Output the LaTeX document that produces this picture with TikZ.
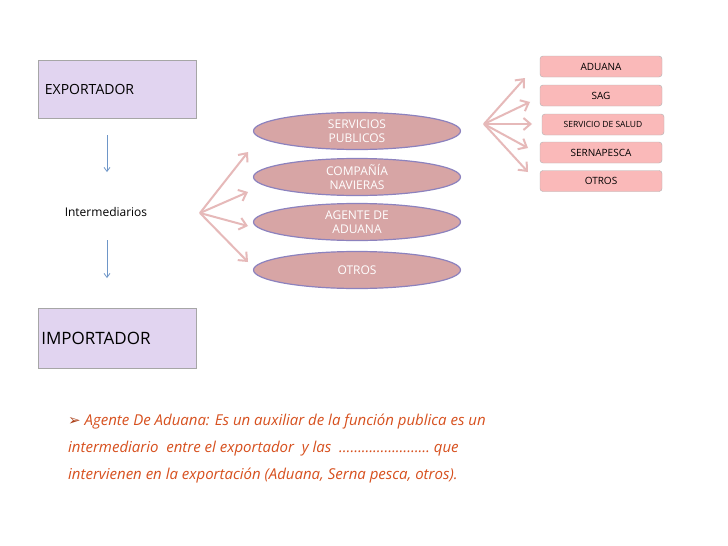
\documentclass[tikz,border=0pt]{standalone}
\usepackage{fontspec}
\setmainfont{Open Sans}
\newfontfamily\djv{DejaVu Sans}
\usetikzlibrary{shapes.geometric,arrows.meta}
\definecolor{lil}{RGB}{225,212,240}
\definecolor{ellf}{RGB}{215,165,165}
\definecolor{ellb}{RGB}{140,130,190}
\definecolor{fan}{RGB}{230,185,185}
\definecolor{redb}{RGB}{250,185,185}
\definecolor{txtc}{RGB}{215,80,30}
\definecolor{blu}{RGB}{110,150,200}
\tikzset{
 pbox/.style={draw=gray!70,fill=lil,minimum width=158pt,line width=0.8pt},
 rbox/.style={draw=gray!60,fill=redb,rounded corners=3pt,minimum width=122pt,minimum height=21pt,inner sep=1pt,font=\fontsize{10}{11}\selectfont},
 ell/.style={ellipse,draw=ellb,fill=ellf,line width=1.2pt,minimum width=207pt,minimum height=37pt,inner sep=0pt,text=white,font=\fontsize{12}{14}\selectfont,align=center},
 fanar/.style={draw=fan,line width=2pt,-{Straight Barb[length=7pt,width=12pt]}},
 darr/.style={draw=blu,line width=0.8pt,-{Straight Barb[length=4pt,width=6pt]}}
}
\begin{document}
\begin{tikzpicture}[x=1pt,y=-1pt]
\useasboundingbox (0,0) rectangle (728,546);
\fill[white] (0,0) rectangle (728,546);
\node[pbox,minimum height=58pt,anchor=north west,text width=145pt,font=\fontsize{14}{16}\selectfont] (exp) at (38,60) {EXPORTADOR};
\node[pbox,minimum height=60pt,anchor=north west,text width=152pt,inner sep=3pt,font=\fontsize{17}{19}\selectfont] (imp) at (38,308) {IMPORTADOR};
\node[font=\fontsize{12}{14}\selectfont] (int) at (106,212) {Intermediarios};
\coordinate (a1s) at (107,135); \coordinate (a1e) at (107,172);
\coordinate (a2s) at (107,240); \coordinate (a2e) at (107,278);
\draw[darr] (a1s) -- (a1e);
\draw[darr] (a2s) -- (a2e);
\node[ell] (e1) at (357,131) {SERVICIOS\\PUBLICOS};
\node[ell] (e2) at (357,177) {COMPAÑÍA\\NAVIERAS};
\node[ell] (e3) at (357,222) {AGENTE DE\\ADUANA};
\node[ell] (e4) at (357,270) {OTROS};
\coordinate (f) at (200,213);
\coordinate (t1) at (248,152); \coordinate (t2) at (248,192);
\coordinate (t3) at (248,226); \coordinate (t4) at (248,262);
\foreach \t in {t1,t2,t3,t4} \draw[fanar] (f) -- (\t);
\node[rbox] (r1) at (601,66.5) {ADUANA};
\node[rbox] (r2) at (601,95.5) {SAG};
\node[rbox,font=\fontsize{8.5}{9}\selectfont] (r3) at (603,124.5) {SERVICIO DE SALUD};
\node[rbox] (r4) at (601,152.5) {SERNAPESCA};
\node[rbox] (r5) at (601,181) {OTROS};
\coordinate (g) at (484,124);
\coordinate (u1) at (525,78); \coordinate (u2) at (530,102);
\coordinate (u3) at (532,124); \coordinate (u4) at (528,148); \coordinate (u5) at (528,172);
\foreach \t in {u1,u2,u3,u4,u5} \draw[fanar] (g) -- (\t);
\node[anchor=north west,align=left,text=txtc,font=\itshape\fontsize{15}{27}\selectfont,inner sep=0pt] (txt) at (68,414)
{{\djv\upshape\color{txtc!80!black}➢} Agente De Aduana: Es un auxiliar de la función publica es un\\intermediario\ \ entre el exportador\ \ y las\ \ …………………… que\\intervienen en la exportación (Aduana, Serna pesca, otros).};
\end{tikzpicture}
\end{document}
